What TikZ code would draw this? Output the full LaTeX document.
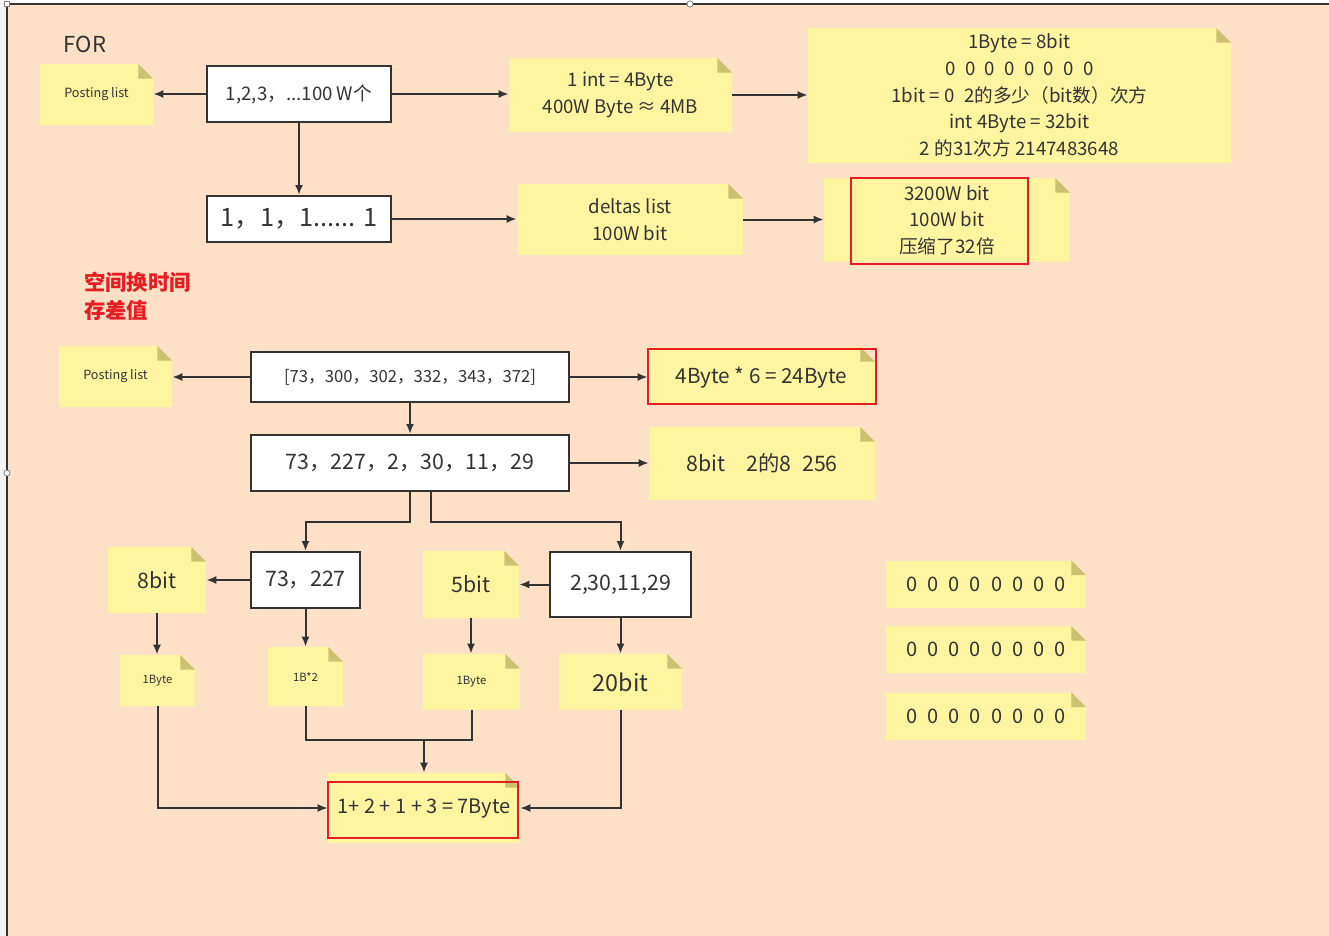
\documentclass[tikz,border=0pt]{standalone}
\usepackage{fontspec}
\setmainfont{Noto Sans CJK SC}
\usepackage{tikz}
\usetikzlibrary{arrows.meta,calc}

\definecolor{peach}{RGB}{254,224,198}
\definecolor{notey}{RGB}{255,245,160}
\definecolor{foldy}{RGB}{205,192,112}
\definecolor{ink}{RGB}{51,51,51}
\definecolor{redline}{RGB}{230,30,36}
\definecolor{sidebar}{RGB}{244,242,245}

\newcommand\bitrow{0\foreach \k in {1,...,7}{\hspace{.5em}0}}

\tikzset{
  sz/.style 2 args={minimum width=#1*0.75pt, minimum height=#2*0.75pt},
  box/.style={draw=ink, line width=1.5pt, fill=white, inner sep=0pt, text=ink},
  note/.style={fill=notey, inner sep=0pt, text=ink, path picture={
      \fill[peach] (path picture bounding box.north east) -- ++(-11pt,0) -- ++(11pt,-11pt) -- cycle;
      \fill[foldy] ([xshift=-11pt]path picture bounding box.north east) -- ++(0,-11pt) -- ++(11pt,0) -- cycle;}},
  redframe/.style={draw=redline, line width=1.9pt, inner sep=0pt},
  link/.style={draw=ink, line width=1.5pt},
  arr/.style={link, -{Latex[length=7.5pt,width=6pt]}},
  f9/.style={font=\fontsize{9.5pt}{11pt}\selectfont},
  f8/.style={font=\fontsize{8.5pt}{11pt}\selectfont},
  f14/.style={font=\fontsize{14pt}{20pt}\selectfont, align=center},
  f16/.style={font=\fontsize{16pt}{20pt}\selectfont},
}

\begin{document}
\begin{tikzpicture}[x=0.75pt,y=-0.75pt]
    \useasboundingbox (0,0) rectangle (1329,936);
    \def\showCanvas{
      \fill[sidebar] (0,0) rectangle (7,936);
      \fill[peach] (7,4) rectangle (1329,936);
      \draw[ink, line width=1.5pt] (7,936) -- (7,4) -- (1329,4);
      \draw[gray, fill=white, line width=0.6pt] (4.5,1.5) rectangle (9.5,6.5);
      \draw[gray, fill=white, line width=0.6pt] (690,4) circle (2.3pt);
      \draw[gray, fill=white, line width=0.6pt] (7,473) circle (2.3pt);
    }
    \def\showUpper{
      \node[text=ink, font=\fontsize{16.5pt}{20pt}\selectfont] (title) at (85,44) {FOR};
      \node[note, sz={113}{61}, f9] (post1) at (96.5,94.5) {Posting list};
      \node[box, sz={184}{56}, font=\fontsize{14pt}{18pt}\selectfont] (seq) at (299,94) {1,2,3，...100 W个};
      \node[note, sz={223}{74}, f14] (intsz) at (620.5,95) {1 int = 4Byte\\400W Byte ≈ 4MB};
      \node[note, sz={423}{135}, f14] (bits) at (1019.5,95.5)
        {1Byte = 8bit\\\bitrow\\1bit = 0\enspace 2的多少（bit数）次方\\int 4Byte = 32bit\\2 的31次方 2147483648};
      \node[box, sz={184}{46}, font=\fontsize{19pt}{22pt}\selectfont] (ones) at (299,219) {1，1，1...... 1};
      \node[note, sz={226}{71}, f14] (deltas) at (630,219.5) {deltas list\\100W bit};
      \node[note, sz={246}{84}, f14] (ratio) at (947,220) {3200W bit\\100W bit\\压缩了32倍};
      \node[redframe, sz={177}{86}] (ratioframe) at (939.5,221) {};
      \node[text=redline, anchor=west, inner sep=0pt, align=left,
        font=\bfseries\fontsize{16pt}{21pt}\selectfont] (motto) at (84,296) {空间换时间\\存差值};
    }
    \def\showLower{
      \node[note, sz={113}{61}, f9] (post2) at (115.5,376.5) {Posting list};
      \node[box, sz={318}{50}, font=\fontsize{12.5pt}{16pt}\selectfont] (docs) at (410,377)
        {[73，300，302，332，343，372]};
      \node[note, sz={227}{57}, font=\fontsize{15.5pt}{18pt}\selectfont, text depth=-1pt] (docsz) at (761.5,375.5) {4Byte * 6 = 24Byte};
      \node[redframe, sz={228}{55}] (docframe) at (762,376.5) {};
      \node[box, sz={318}{56}, f16] (gaps) at (410,463) {73，227，2，30，11，29};
      \node[note, sz={226}{73}, f16] (range) at (762,463.5) {8bit\quad 2的8\enspace 256};
      \node[box, sz={109}{56}, f16] (small) at (305.5,580) {73，227};
      \node[box, sz={141}{65}, f16] (large) at (620.5,584.5) {2,30,11,29};
      \node[note, sz={98}{66}, f16] (b8) at (157,580) {8bit};
      \node[note, sz={96}{67}, f16] (b5) at (471,584.5) {5bit};
      \node[note, sz={75}{51}, f8] (by1) at (157.5,680.5) {1Byte};
      \node[note, sz={75}{59}, f8] (by2) at (305.5,676.5) {1B*2};
      \node[note, sz={97}{56}, f8] (by3) at (471.5,682) {1Byte};
      \node[note, sz={123}{56}, font=\fontsize{17.5pt}{20pt}\selectfont] (b20) at (620.5,682) {20bit};
      \node[note, sz={192}{70}, font=\fontsize{15pt}{18pt}\selectfont] (total) at (424,808) {1+ 2 + 1 + 3 = 7Byte};
      \node[redframe, sz={190}{56}] (totalframe) at (423,810) {};
      % bit rows on the right
      \foreach \r/\y in {1/584,2/649.5,3/716}
        \node[note, sz={200}{47}, font=\fontsize{15pt}{18pt}\selectfont] (row\r) at (986,\y) {\bitrow};
    }
    \def\showLinks{
      % Draw upper arrows
      \draw[arr] (seq.west) -- (seq.west -| post1.east);
      \draw[arr] (seq.east) -- (seq.east -| intsz.west);
      \draw[arr] (intsz.east) -- (intsz.east -| bits.west);
      \draw[arr] (seq.south) -- (ones.north);
      \draw[arr] (ones.east) -- (ones.east -| deltas.west);
      \draw[arr] (deltas.east) -- (deltas.east -| ratio.west);
      % Draw lower arrows
      \draw[arr] (docs.west) -- (docs.west -| post2.east);
      \draw[arr] (docs.east) -- (docs.east -| docsz.west);
      \draw[arr] (docs.south) -- (gaps.north);
      \draw[arr] (gaps.east) -- (gaps.east -| range.west);
      \draw[arr] (gaps.south) -- ++(0,30) -| (small.north);
      \draw[arr] ([xshift=15.75pt]gaps.south) -- ++(0,30) -| (large.north);
      \draw[arr] (small.west) -- (small.west -| b8.east);
      \draw[arr] (large.west) -- (large.west -| b5.east);
      \draw[arr] (b8.south) -- (b8.south |- by1.north);
      \draw[arr] (small.south) -- (small.south |- by2.north);
      \draw[arr] (b5.south) -- (b5.south |- by3.north);
      \draw[arr] (large.south) -- (large.south |- b20.north);
      \coordinate (merge) at (424,740);
      \draw[link] (by2.south) |- (merge) -| (by3.south);
      \draw[arr] (merge) -- (total.north);
      \draw[arr] (by1.south) |- (total.west);
      \draw[arr] (b20.south) |- (total.east);
    }
    \showCanvas
    \showUpper
    \showLower
    \showLinks
\end{tikzpicture}
\end{document}
